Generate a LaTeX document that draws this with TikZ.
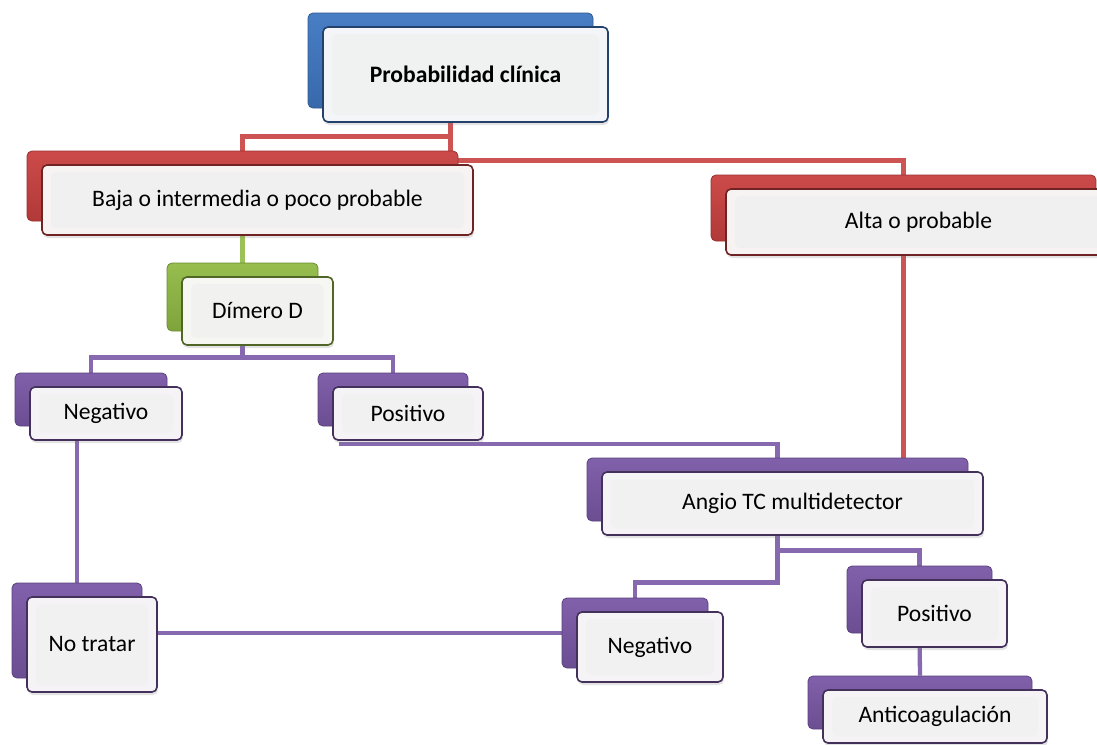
\documentclass[tikz,border=0pt]{standalone}
\usepackage{fontspec}
\setmainfont{Carlito}
\usetikzlibrary{backgrounds,shadows,calc}

\definecolor{tblue}{HTML}{3F77C2}
\definecolor{tred}{HTML}{C94140}
\definecolor{tgreen}{HTML}{91BA45}
\definecolor{tpurple}{HTML}{7A58A6}

\begin{document}
\begin{tikzpicture}[x=1pt,y=-1pt,
rearbox/.style={draw=#1!75!black, line width=0.8pt, rounded corners=5pt,
  top color=#1!95!white, bottom color=#1!88!black, inner sep=0pt},
frontbox/.style={draw=#1!55!black, line width=1.6pt, rounded corners=5pt,
  fill=#1!4!white!96!gray, xshift=15pt, yshift=-14pt, inner sep=0pt,
  font=\fontsize{23.6pt}{28pt}\selectfont,
  drop shadow={opacity=0.22,shadow xshift=1pt,shadow yshift=-3pt},
  path picture={\fill[#1!7!gray!11!white]
    ([shift={(9pt,7pt)}]path picture bounding box.south west) rectangle
    ([shift={(-9pt,-7pt)}]path picture bounding box.north east);}},
wh/.style 2 args={minimum width=#1, minimum height=#2},
link/.style={draw=#1!90!white, line width=4.3pt}]
\useasboundingbox (0,0) rectangle (1097,744);

% top level
\node[rearbox=tblue, wh={285pt}{95pt}] (probb) at (450.5,60.5) {};
\node[frontbox=tblue, wh={285pt}{95pt}] (prob) at (probb) {\textbf{Probabilidad clínica}};

% second level
\node[rearbox=tred, wh={431pt}{70pt}] (bajab) at (242.5,186) {};
\node[frontbox=tred, wh={431pt}{70pt}] (baja) at (bajab) {Baja o intermedia o poco probable};
\node[rearbox=tred, wh={385pt}{66pt}] (altab) at (903.5,208) {};
\node[frontbox=tred, wh={385pt}{66pt}] (alta) at (altab) {Alta o probable};

% left branch
\node[rearbox=tgreen, wh={151pt}{68pt}] (dimerob) at (242.5,297) {};
\node[frontbox=tgreen, wh={151pt}{68pt}] (dimero) at (dimerob) {Dímero D};
\node[rearbox=tpurple, wh={152pt}{53pt}] (neg1b) at (91,399.5) {};
\node[frontbox=tpurple, wh={152pt}{53pt}] (neg1) at (neg1b) {Negativo};
\node[rearbox=tpurple, wh={150pt}{53pt}] (pos1b) at (393,399.5) {};
\node[frontbox=tpurple, wh={150pt}{53pt}] (pos1) at (pos1b) {Positivo};
\node[rearbox=tpurple, wh={130pt}{95pt}] (notratarb) at (77,630.5) {};
\node[frontbox=tpurple, wh={130pt}{95pt}] (notratar) at (notratarb) {No tratar};

% right branch
\node[rearbox=tpurple, wh={381pt}{63pt}] (angiob) at (777.5,489.5) {};
\node[frontbox=tpurple, wh={381pt}{63pt}] (angio) at (angiob) {Angio TC multidetector};
\node[rearbox=tpurple, wh={146pt}{70pt}] (neg2b) at (635,633) {};
\node[frontbox=tpurple, wh={146pt}{70pt}] (neg2) at (neg2b) {Negativo};
\node[rearbox=tpurple, wh={145pt}{67pt}] (pos2b) at (919.5,599.5) {};
\node[frontbox=tpurple, wh={145pt}{67pt}] (pos2) at (pos2b) {Positivo};
\node[rearbox=tpurple, wh={224pt}{53pt}] (antib) at (920,702.5) {};
\node[frontbox=tpurple, wh={224pt}{53pt}] (anti) at (antib) {Anticoagulación};

% connectors behind the boxes
\begin{scope}[on background layer]
\draw[link=tred] (probb.south) |- ([yshift=14pt]bajab.north) -- (bajab.north);
\draw[link=tred] (probb.south) |- ([yshift=14pt]altab.north) -- (altab.north);
\draw[link=tgreen] (bajab.south) -- (dimerob.north);
\draw[link=tpurple] (dimerob.south) |- ([yshift=15pt]neg1b.north) -- (neg1b.north);
\draw[link=tpurple] (dimerob.south) |- ([yshift=15pt]pos1b.north) -- (pos1b.north);
\draw[link=tpurple] (notratarb.north) -- (notratarb.north |- neg1.south);
\draw[link=tpurple] (notratar.east |- neg2b.west) -- (neg2b.west);
\draw[link=tpurple] ([shift={(7pt,-3pt)}]pos1.south west) -| (angiob.north);
\draw[link=tred] (altab.south) -- (altab.south |- angiob.north);
\draw[link=tpurple] (angiob.south) |- ([yshift=15pt]neg2b.north) -- (neg2b.north);
\draw[link=tpurple] (angiob.south) |- ([yshift=15pt]pos2b.north) -- (pos2b.north);
\draw[link=tpurple] (pos2b.south) -- (antib.north);
\end{scope}
\end{tikzpicture}
\end{document}
